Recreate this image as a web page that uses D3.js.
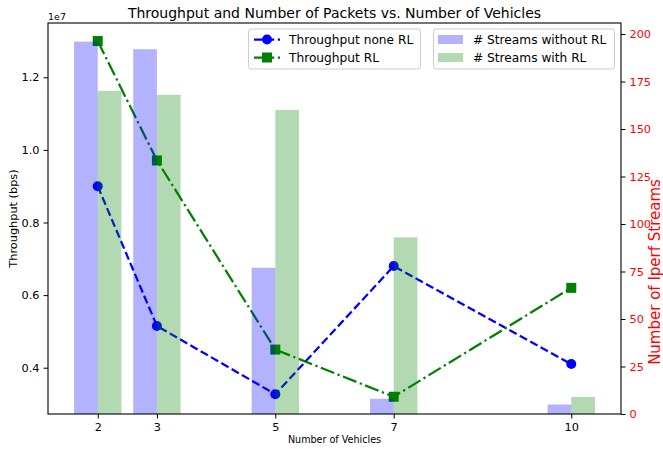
<!DOCTYPE html>
<html>
<head>
<meta charset="utf-8">
<script src="https://cdn.jsdelivr.net/npm/d3@7"></script>
<style>
  body { margin: 0; background: #fff; }
  svg { display: block; font-family: "DejaVu Sans", sans-serif; }
</style>
</head>
<body>
<script>
// data
var vehicles = [2, 3, 5, 7, 10];
var throughputNoneRL = [9.0e6, 5.15e6, 3.27e6, 6.8e6, 4.1e6];
var throughputRL = [1.30e7, 9.71e6, 4.5e6, 3.2e6, 6.2e6];
var streamsWithoutRL = [196, 192, 77, 8, 5];
var streamsWithRL = [170, 168, 160, 93, 9];
var leftTicks = [4e6, 6e6, 8e6, 1e7, 1.2e7];
var rightTicks = [0, 25, 50, 75, 100, 125, 150, 175, 200];

var W = 663, H = 449;
var margin = {top: 23, right: 42, bottom: 35, left: 48};
var width = W - margin.left - margin.right,
    height = H - margin.top - margin.bottom;

var svg = d3.select("body").append("svg")
  .attr("width", W)
  .attr("height", H);

var g = svg.append("g")
  .attr("transform", "translate(" + margin.left + "," + margin.top + ")");

var barW = 0.4;
var xScale = d3.scaleLinear()
  .domain([1.16, 10.84])
  .range([0, width]);

var yLeft = d3.scaleLinear()
  .domain([2.725e6, 1.3496e7])
  .range([height, 0]);

var yRight = d3.scaleLinear()
  .domain([0, 205.8])
  .range([height, 0]);

// lines (drawn first, bars of twin axis sit on top)
var line = d3.line()
  .x(function(d) { return xScale(d[0]); })
  .y(function(d) { return yLeft(d[1]); });

var noneData = vehicles.map(function(v, i) { return [v, throughputNoneRL[i]]; });
var rlData = vehicles.map(function(v, i) { return [v, throughputRL[i]]; });

g.append("path")
  .datum(noneData)
  .attr("fill", "none")
  .attr("stroke", "blue")
  .attr("stroke-width", 2.25)
  .attr("stroke-dasharray", "8.3,3.6")
  .attr("d", line);
g.selectAll(".dotNone")
  .data(noneData)
  .enter().append("circle")
    .attr("class", "dotNone")
    .attr("cx", function(d) { return xScale(d[0]); })
    .attr("cy", function(d) { return yLeft(d[1]); })
    .attr("r", 5)
    .attr("fill", "blue");

g.append("path")
  .datum(rlData)
  .attr("fill", "none")
  .attr("stroke", "green")
  .attr("stroke-width", 2.25)
  .attr("stroke-dasharray", "14.4,3.6,2.25,3.6")
  .attr("d", line);
g.selectAll(".sqRL")
  .data(rlData)
  .enter().append("rect")
    .attr("class", "sqRL")
    .attr("x", function(d) { return xScale(d[0]) - 5; })
    .attr("y", function(d) { return yLeft(d[1]) - 5; })
    .attr("width", 10)
    .attr("height", 10)
    .attr("fill", "green");

// bars on the right axis
g.selectAll(".barWithout")
  .data(vehicles)
  .enter().append("rect")
    .attr("class", "barWithout")
    .attr("x", function(d) { return xScale(d - barW); })
    .attr("y", function(d, i) { return yRight(streamsWithoutRL[i]); })
    .attr("width", function(d) { return xScale(d) - xScale(d - barW); })
    .attr("height", function(d, i) { return height - yRight(streamsWithoutRL[i]); })
    .attr("fill", "blue")
    .attr("fill-opacity", 0.3);
g.selectAll(".barWith")
  .data(vehicles)
  .enter().append("rect")
    .attr("class", "barWith")
    .attr("x", function(d) { return xScale(d); })
    .attr("y", function(d, i) { return yRight(streamsWithRL[i]); })
    .attr("width", function(d) { return xScale(d + barW) - xScale(d); })
    .attr("height", function(d, i) { return height - yRight(streamsWithRL[i]); })
    .attr("fill", "green")
    .attr("fill-opacity", 0.3);

// axes
var fs = 11.3;
var xAxis = g.append("g")
  .attr("transform", "translate(0," + height + ")")
  .call(d3.axisBottom(xScale).tickValues(vehicles).tickSize(4.5).tickPadding(4).tickFormat(d3.format("d")));
var yAxisL = g.append("g")
  .call(d3.axisLeft(yLeft).tickValues(leftTicks).tickSize(4.5).tickPadding(4)
    .tickFormat(function(d) { return (d / 1e7).toFixed(1); }));
var yAxisR = g.append("g")
  .attr("transform", "translate(" + width + ",0)")
  .call(d3.axisRight(yRight).tickValues(rightTicks).tickSize(4.5).tickPadding(4));

[xAxis, yAxisL, yAxisR].forEach(function(a) {
  a.select(".domain").remove();
  a.selectAll("text").style("font-size", fs + "px").style("font-family", "DejaVu Sans").attr("fill", "#000");
  a.selectAll("line").attr("stroke", "#000").attr("stroke-width", 1);
});
yAxisR.selectAll("text").attr("fill", "red");

// frame
g.append("rect")
  .attr("width", width)
  .attr("height", height)
  .attr("fill", "none")
  .attr("stroke", "#000")
  .attr("stroke-width", 1.1);

// offset text
g.append("text")
  .attr("x", 0)
  .attr("y", -3)
  .style("font-size", "9.5px")
  .text("1e7");

// title
svg.append("text")
  .attr("x", margin.left + width / 2)
  .attr("y", 18)
  .attr("text-anchor", "middle")
  .style("font-size", "14px")
  .text("Throughput and Number of Packets vs. Number of Vehicles");

// axis labels
svg.append("text")
  .attr("x", margin.left + width / 2)
  .attr("y", 443)
  .attr("text-anchor", "middle")
  .style("font-size", "9.6px")
  .text("Number of Vehicles");
svg.append("text")
  .attr("transform", "rotate(-90)")
  .attr("x", -(margin.top + height / 2))
  .attr("y", 17)
  .attr("text-anchor", "middle")
  .style("font-size", fs + "px")
  .text("Throughput (bps)");
svg.append("text")
  .attr("transform", "rotate(-90)")
  .attr("x", -272)
  .attr("y", 660)
  .attr("text-anchor", "middle")
  .style("font-size", "15px")
  .attr("fill", "red")
  .text("Number of Iperf Streams");

// legends
function legendBox(x, y, w, h) {
  svg.append("rect")
    .attr("x", x).attr("y", y).attr("width", w).attr("height", h)
    .attr("rx", 2.5)
    .attr("fill", "#fff").attr("fill-opacity", 0.8)
    .attr("stroke", "#ccc").attr("stroke-width", 1);
}
legendBox(248.5, 29, 172, 40);
legendBox(433.5, 29, 181, 40);

var legFs = 12.2;
var lineLegend = [
  {label: "Throughput none RL", color: "blue", dash: "8.3,3.6", marker: "circle"},
  {label: "Throughput RL", color: "green", dash: "14.4,3.6,2.25,3.6", marker: "square"}
];
lineLegend.forEach(function(d, i) {
  var cy = 39.5 + i * 18;
  svg.append("line")
    .attr("x1", 254).attr("x2", 280).attr("y1", cy).attr("y2", cy)
    .attr("stroke", d.color).attr("stroke-width", 2.25)
    .attr("stroke-dasharray", d.dash);
  if (d.marker == "circle") {
    svg.append("circle").attr("cx", 267).attr("cy", cy).attr("r", 5).attr("fill", d.color);
  } else {
    svg.append("rect").attr("x", 262).attr("y", cy - 5).attr("width", 10).attr("height", 10).attr("fill", d.color);
  }
  svg.append("text")
    .attr("x", 289).attr("y", cy + 4.3)
    .style("font-size", legFs + "px")
    .text(d.label);
});

var barLegend = [
  {label: "# Streams without RL", color: "blue"},
  {label: "# Streams with RL", color: "green"}
];
barLegend.forEach(function(d, i) {
  var cy = 39.5 + i * 18;
  svg.append("rect")
    .attr("x", 438).attr("y", cy - 4.5).attr("width", 25).attr("height", 9)
    .attr("fill", d.color).attr("fill-opacity", 0.3);
  svg.append("text")
    .attr("x", 473).attr("y", cy + 4.3)
    .style("font-size", legFs + "px")
    .text(d.label);
});
</script>
</body>
</html>
